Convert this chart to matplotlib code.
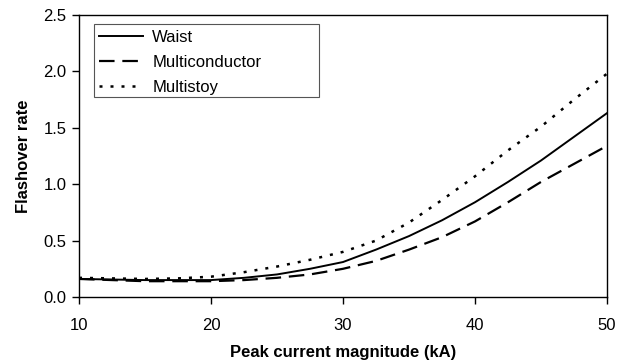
import matplotlib
matplotlib.use("Agg")
import matplotlib.pyplot as plt
from matplotlib.patches import Rectangle

plt.rcParams['font.family'] = ['Liberation Sans', 'DejaVu Sans']

current = [10, 12.5, 15, 17.5, 20, 22.5, 25, 27.5, 30, 32.5, 35, 37.5, 40, 42.5, 45, 47.5, 50]
waist = [0.16, 0.155, 0.15, 0.15, 0.15, 0.17, 0.20, 0.25, 0.31, 0.42, 0.54, 0.68, 0.84, 1.02, 1.21, 1.42, 1.63]
multiconductor = [0.16, 0.15, 0.14, 0.14, 0.14, 0.15, 0.17, 0.20, 0.25, 0.32, 0.42, 0.53, 0.67, 0.84, 1.02, 1.18, 1.34]
multistoy = [0.17, 0.165, 0.16, 0.165, 0.18, 0.22, 0.27, 0.33, 0.40, 0.50, 0.66, 0.86, 1.07, 1.30, 1.51, 1.75, 1.98]

W, H = 634, 363
fig = plt.figure(figsize=(W/100, H/100), dpi=100)
ax = fig.add_axes([79/W, 1 - 297/H, (607-79)/W, (297-15)/H])

ax.plot(current, waist, color='black', lw=1.4, label='Waist')
ax.plot(current, multiconductor, color='black', lw=1.6, dashes=(7, 3.5), label='Multiconductor')
ax.plot(current, multistoy, color='black', lw=1.8, dashes=(1.2, 3.2), label='Multistoy')

ax.set_xlim(10, 50)
ax.set_ylim(0, 2.5)
ax.set_xticks([10, 20, 30, 40, 50])
ax.set_yticks([0, 0.5, 1.0, 1.5, 2.0, 2.5])
ax.set_yticklabels(['0.0', '0.5', '1.0', '1.5', '2.0', '2.5'])
ax.tick_params(direction='out', length=5, width=1, labelsize=12, colors='black')
ax.tick_params(axis='x', pad=10)
ax.tick_params(axis='y', pad=4)
for s in ax.spines.values():
    s.set_linewidth(1)
ax.set_xlabel('Peak current magnitude (kA)', fontsize=12, fontweight='bold', labelpad=9)
ax.set_ylabel('Flashover rate', fontsize=12, fontweight='bold', labelpad=9)

# legend box (Excel style, wider than its text)
def ax_x(px):
    return (px - 79) / 528

def ax_y(py):
    return (297 - py) / 282

ax.add_patch(Rectangle((ax_x(94), ax_y(97)), ax_x(319) - ax_x(94), ax_y(24) - ax_y(97),
                       transform=ax.transAxes, fill=False, edgecolor='#555555', lw=0.8, zorder=4))
ax.legend(loc='upper left', bbox_to_anchor=(ax_x(99), ax_y(30)), frameon=False,
          fontsize=12, handlelength=2.65, borderpad=0, labelspacing=0.6,
          handletextpad=0.55, borderaxespad=0)

fig.savefig('out.png', dpi=100)
